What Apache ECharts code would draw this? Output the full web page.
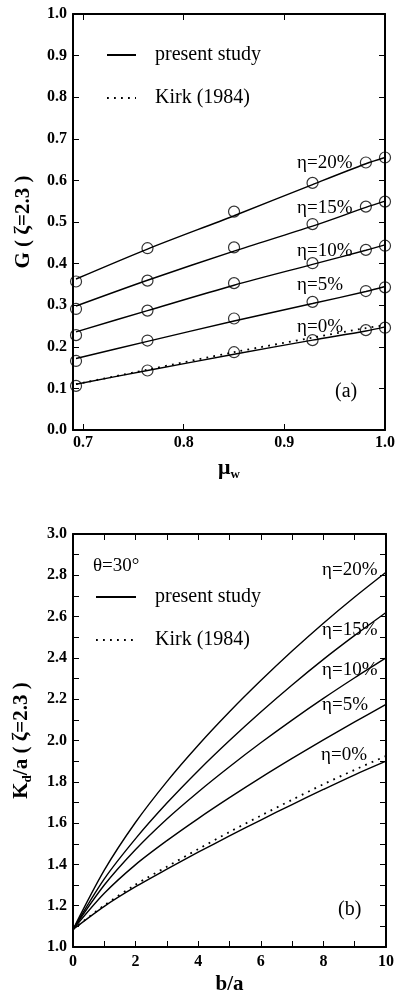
<!DOCTYPE html>
<html>
<head>
<meta charset="utf-8">
<script src="https://cdn.jsdelivr.net/npm/echarts@6/dist/echarts.min.js"></script>
<style>
  html, body { margin: 0; padding: 0; background: #fff; }
  #chart { width: 398px; height: 996px; }
</style>
</head>
<body>
<div id="chart"></div>
<script>
// (a) G versus mu_w
const muW = [0.693, 0.764, 0.850, 0.928, 0.981, 1.0]
const g20Line = [0.363, 0.435, 0.515, 0.590, 0.640, 0.655]
const g15Line = [0.298, 0.360, 0.430, 0.490, 0.535, 0.550]
const g10Line = [0.236, 0.287, 0.348, 0.398, 0.432, 0.445]
const g5Line = [0.172, 0.213, 0.262, 0.304, 0.333, 0.345]
const g0Line = [0.110, 0.143, 0.182, 0.216, 0.238, 0.248]
const gKirk = [0.110, 0.145, 0.187, 0.222, 0.245, 0.252]
const g20Pts = [0.357, 0.437, 0.525, 0.594, 0.643, 0.655]
const g15Pts = [0.291, 0.359, 0.439, 0.495, 0.537, 0.549]
const g10Pts = [0.228, 0.287, 0.353, 0.401, 0.433, 0.443]
const g5Pts = [0.166, 0.215, 0.268, 0.308, 0.334, 0.343]
const g0Pts = [0.106, 0.143, 0.187, 0.216, 0.240, 0.246]
const muTicks = [0.7, 0.8, 0.9]
const muLabels = [0.7, 0.8, 0.9, 1.0]

// (b) Kd/a versus b/a
const ba = [0, 1, 2, 3, 4, 5, 6, 7, 8, 9, 10]
const kd20 = [1.085, 1.372, 1.604, 1.801, 1.977, 2.139, 2.290, 2.433, 2.568, 2.695, 2.815]
const kd15 = [1.085, 1.330, 1.525, 1.697, 1.854, 2.000, 2.138, 2.269, 2.393, 2.509, 2.620]
const kd10 = [1.085, 1.300, 1.472, 1.620, 1.751, 1.873, 1.989, 2.099, 2.204, 2.304, 2.400]
const kd5 = [1.085, 1.260, 1.399, 1.515, 1.622, 1.723, 1.820, 1.913, 2.003, 2.090, 2.175]
const kd0 = [1.085, 1.197, 1.292, 1.377, 1.459, 1.538, 1.615, 1.690, 1.763, 1.834, 1.900]
const kdKirk = [1.085, 1.202, 1.302, 1.389, 1.474, 1.557, 1.636, 1.713, 1.788, 1.858, 1.925]

const serif = '"Liberation Serif", "DejaVu Serif", serif'
const black = '#000'

const pairs = (xs, ys) => xs.map((x, i) => [x, ys[i]])

function solid(data, xi) {
  return { name: 'present study', type: 'line', xAxisIndex: xi, yAxisIndex: xi, data, smooth: 0.3,
    symbol: 'none', lineStyle: { color: black, width: 1.4 }, itemStyle: { color: black }, z: 3 }
}
function dotted(data, xi) {
  return { name: 'Kirk (1984)', type: 'line', xAxisIndex: xi, yAxisIndex: xi, data, smooth: 0.3,
    symbol: 'none', lineStyle: { color: black, width: 1.8, type: [1.8, 5.2] }, itemStyle: { color: black }, z: 3 }
}
function circles(data) {
  return { name: 'data', type: 'scatter', xAxisIndex: 0, yAxisIndex: 0, data, symbol: 'circle', symbolSize: 11,
    itemStyle: { color: 'rgba(255,255,255,0)', borderColor: black, borderWidth: 1.2 }, z: 4 }
}

const axisLine = { show: true, onZero: false, lineStyle: { color: black, width: 2 } }
const tickLabel = { color: black, fontFamily: serif, fontWeight: 'bold', fontSize: 16 }
const nameStyle = { color: black, fontFamily: serif, fontWeight: 'bold', fontSize: 21 }
const legendText = { color: black, fontFamily: serif, fontSize: 20, padding: [0, 0, 0, 14] }

function txt(text, x, y, size, align) {
  return { type: 'text', x, y, style: { text, fill: black, font: size + 'px ' + serif, align: align || 'left', verticalAlign: 'middle' } }
}

const chart = echarts.init(document.getElementById('chart'))
chart.setOption({
  animation: false,
  backgroundColor: '#fff',
  grid: [
    { left: 73, top: 14, width: 313, height: 416 },
    { left: 73, top: 534, width: 313, height: 416 }
  ],
  legend: [
    { data: ['present study', 'Kirk (1984)'], orient: 'vertical', left: 106, top: 45, padding: 0,
      itemWidth: 29, itemHeight: 20, itemGap: 23, selectedMode: false,
      itemStyle: { opacity: 0 }, textStyle: legendText },
    { data: ['present study', 'Kirk (1984)'], orient: 'vertical', left: 95, top: 587, padding: 0,
      itemWidth: 40, itemHeight: 20, itemGap: 23, selectedMode: false,
      itemStyle: { opacity: 0 }, textStyle: legendText }
  ],
  xAxis: [
    { gridIndex: 0, type: 'value', min: 0.69, max: 1.0, position: 'bottom', axisLine,
      axisTick: { inside: true, length: 6, customValues: muTicks, lineStyle: { color: black } },
      axisLabel: { ...tickLabel, margin: 5, customValues: muLabels, formatter: v => v.toFixed(1) },
      splitLine: { show: false },
      name: '{m|μ}{s|w}', nameLocation: 'middle', nameGap: 26,
      nameTextStyle: { rich: { m: { ...nameStyle, fontSize: 22 }, s: { ...nameStyle, fontSize: 13, padding: [12, 0, 0, 0] } } } },
    { gridIndex: 0, type: 'value', min: 0.69, max: 1.0, position: 'top', axisLine,
      axisTick: { inside: true, length: 6, customValues: muTicks, lineStyle: { color: black } },
      axisLabel: { show: false }, splitLine: { show: false } },
    { gridIndex: 1, type: 'value', min: 0, max: 10, interval: 2, position: 'bottom', axisLine,
      axisTick: { inside: true, length: 6, lineStyle: { color: black } },
      minorTick: { show: true, splitNumber: 2, length: 6, lineStyle: { color: black } },
      axisLabel: { ...tickLabel, margin: 7 }, splitLine: { show: false }, minorSplitLine: { show: false },
      name: 'b/a', nameLocation: 'middle', nameGap: 27, nameTextStyle: nameStyle },
    { gridIndex: 1, type: 'value', min: 0, max: 10, interval: 2, position: 'top', axisLine,
      axisTick: { inside: true, length: 6, lineStyle: { color: black } },
      minorTick: { show: true, splitNumber: 2, length: 6, lineStyle: { color: black } },
      axisLabel: { show: false }, splitLine: { show: false } }
  ],
  yAxis: [
    { gridIndex: 0, type: 'value', min: 0, max: 1, interval: 0.1, position: 'left', axisLine,
      axisTick: { inside: true, length: 6, lineStyle: { color: black } },
      axisLabel: { ...tickLabel, margin: 6, formatter: v => v.toFixed(1) }, splitLine: { show: false },
      name: 'G ( ζ=2.3 )', nameLocation: 'middle', nameRotate: 90, nameGap: 39, nameTextStyle: nameStyle },
    { gridIndex: 0, type: 'value', min: 0, max: 1, interval: 0.1, position: 'right', axisLine,
      axisTick: { inside: true, length: 6, lineStyle: { color: black } },
      axisLabel: { show: false }, splitLine: { show: false } },
    { gridIndex: 1, type: 'value', min: 1, max: 3, interval: 0.2, position: 'left', axisLine,
      axisTick: { inside: true, length: 6, lineStyle: { color: black } },
      minorTick: { show: true, splitNumber: 2, length: 6, lineStyle: { color: black } },
      axisLabel: { ...tickLabel, margin: 6, formatter: v => v.toFixed(1) }, splitLine: { show: false },
      name: '{b|K}{s|d}{b|/a ( ζ=2.3 )}', nameLocation: 'middle', nameRotate: 90, nameGap: 39,
      nameTextStyle: { rich: { b: nameStyle, s: { ...nameStyle, fontSize: 13, padding: [11, 0, 0, 0] } } } },
    { gridIndex: 1, type: 'value', min: 1, max: 3, interval: 0.2, position: 'right', axisLine,
      axisTick: { inside: true, length: 6, lineStyle: { color: black } },
      minorTick: { show: true, splitNumber: 2, length: 6, lineStyle: { color: black } },
      axisLabel: { show: false }, splitLine: { show: false } }
  ],
  series: [
    solid(pairs(muW, g20Line), 0), solid(pairs(muW, g15Line), 0), solid(pairs(muW, g10Line), 0),
    solid(pairs(muW, g5Line), 0), solid(pairs(muW, g0Line), 0), dotted(pairs(muW, gKirk), 0),
    circles(pairs(muW, g20Pts)), circles(pairs(muW, g15Pts)), circles(pairs(muW, g10Pts)),
    circles(pairs(muW, g5Pts)), circles(pairs(muW, g0Pts)),
    { ...solid(pairs(ba, kd20), 2), yAxisIndex: 2 }, { ...solid(pairs(ba, kd15), 2), yAxisIndex: 2 },
    { ...solid(pairs(ba, kd10), 2), yAxisIndex: 2 }, { ...solid(pairs(ba, kd5), 2), yAxisIndex: 2 },
    { ...solid(pairs(ba, kd0), 2), yAxisIndex: 2 }, { ...dotted(pairs(ba, kdKirk), 2), yAxisIndex: 2 }
  ],
  graphic: [
    txt('η=20%', 297, 163, 19), txt('η=15%', 297, 208, 19), txt('η=10%', 297, 251, 19),
    txt('η=5%', 297, 285, 19), txt('η=0%', 297, 327, 19), txt('(a)', 335, 392, 20),
    txt('θ=30°', 93, 566, 19),
    txt('η=20%', 322, 570, 19), txt('η=15%', 322, 630, 19), txt('η=10%', 322, 670, 19),
    txt('η=5%', 322, 705, 19), txt('η=0%', 321, 755, 19), txt('(b)', 338, 910, 20)
  ]
})
</script>
</body>
</html>
